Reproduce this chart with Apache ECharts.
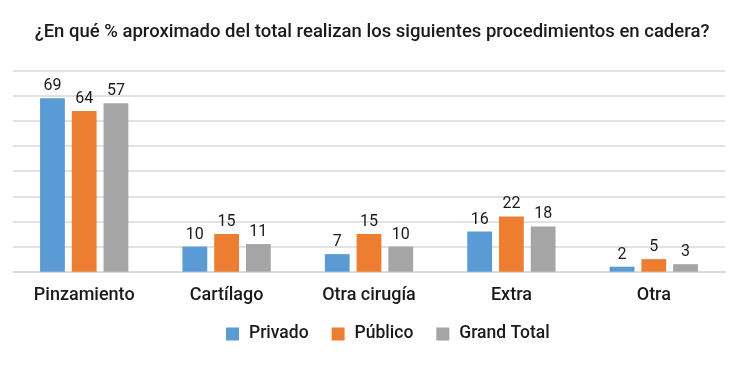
<!DOCTYPE html>
<html><head><meta charset="utf-8">
<script src="https://cdn.jsdelivr.net/npm/echarts@6/dist/echarts.min.js"></script>
<style>html,body{margin:0;padding:0;background:#fff}#c{width:744px;height:365px}</style>
</head><body><div id="c"></div>
<script>
const title = '¿En qué % aproximado del total realizan los siguientes procedimientos en cadera?';
const categories = ['Pinzamiento', 'Cartílago', 'Otra cirugía', 'Extra', 'Otra'];
const seriesNames = ['Privado', 'Público', 'Grand Total'];
const privado = [69, 10, 7, 16, 2];
const publico = [64, 15, 15, 22, 5];
// bar heights as drawn in the reference (first gray bar is drawn near 67)
const grandTotal = [67, 11, 10, 18, 3];
// label texts as printed in the reference
const grandTotalLabels = ['57', '11', '10', '18', '3'];
const colors = ['#5b9bd5', '#ed7d31', '#a5a5a5'];
const FONT = 'Roboto';
const chart = echarts.init(document.getElementById('c'), null, {renderer: 'canvas'});
const mk = (name, data, color, labels) => ({
  name, type: 'bar', data, barGap: '28%', barCategoryGap: '38%',
  itemStyle: {color},
  label: {show: true, position: 'top', distance: 4, color: '#1a1a1a', fontSize: 16, fontFamily: FONT,
    formatter: labels ? (p => labels[p.dataIndex]) : '{c}'}
});
chart.setOption({
  animation: false,
  title: {text: title, left: 'center', top: 18, textStyle: {fontFamily: FONT, fontSize: 18.5, fontWeight: 500, color: '#1a1a1a'}},
  legend: {left: 221, bottom: 17, itemWidth: 13, itemHeight: 13, itemGap: 23, icon: 'rect',
    textStyle: {fontFamily: FONT, fontSize: 17.5, color: '#1a1a1a', fontWeight: 500, padding: [0, 0, 0, 5]}, data: seriesNames},
  grid: {left: 13, right: 19, top: 70.7, bottom: 93.3, containLabel: false},
  xAxis: {type: 'category', data: categories,
    axisLine: {lineStyle: {color: '#d9d9d9', width: 1.5}}, axisTick: {show: false},
    axisLabel: {fontFamily: FONT, fontSize: 18, color: '#1a1a1a', fontWeight: 500, margin: 15}},
  yAxis: {type: 'value', min: 0, max: 80, interval: 10, axisLabel: {show: false},
    axisLine: {show: false}, axisTick: {show: false},
    splitLine: {lineStyle: {color: '#d9d9d9', width: 1.5}}},
  series: [mk(seriesNames[0], privado, colors[0]), mk(seriesNames[1], publico, colors[1]),
           mk(seriesNames[2], grandTotal, colors[2], grandTotalLabels)]
});
</script></body></html>
